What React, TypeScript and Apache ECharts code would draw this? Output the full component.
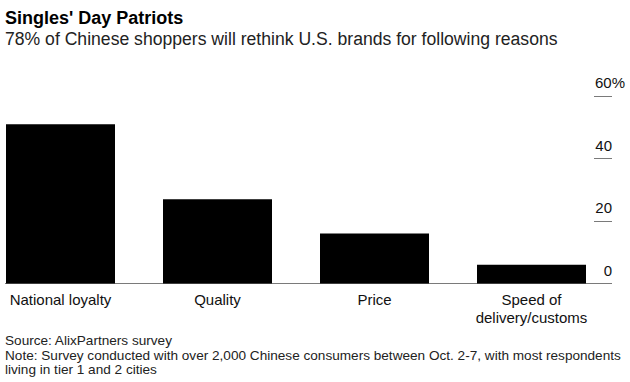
import React, { useEffect, useRef } from "react";
import * as echarts from "echarts";

const categories = ["National loyalty", "Quality", "Price", "Speed of\ndelivery/customs"];
const values = [51, 27, 16, 6];
const yMin = 0;
const yMax = 60;
const yInterval = 20;
const titleText = "Singles' Day Patriots";
const subtitleText = "78% of Chinese shoppers will rethink U.S. brands for following reasons";
const footerLines = [
  "Source: AlixPartners survey",
  "Note: Survey conducted with over 2,000 Chinese consumers between Oct. 2-7, with most respondents",
  "living in tier 1 and 2 cities",
];

const FONT = "'Liberation Sans', Arial, Helvetica, sans-serif";
// chart div is shifted left so the first category band can start off-page
const SHIFT = 18;

export default function App() {
  const ref = useRef<HTMLDivElement>(null);
  useEffect(() => {
    document.body.style.margin = "0";
    const chart = echarts.init(ref.current!, null, { renderer: "svg" });
    const footerYs = [340, 355, 369];
    chart.setOption({
      animation: false,
      textStyle: { fontFamily: FONT },
      grid: { left: 0, right: 20, top: 96, bottom: 98.5, containLabel: false },
      xAxis: {
        type: "category",
        data: categories,
        axisLine: { lineStyle: { color: "#7a7a7a", width: 1 } },
        axisTick: { show: false },
        axisLabel: { color: "#111", fontSize: 15, margin: 7, lineHeight: 18, fontFamily: FONT },
      },
      yAxis: {
        type: "value",
        position: "right",
        offset: 2,
        min: yMin,
        max: yMax,
        interval: yInterval,
        splitLine: { show: false },
        axisLine: { show: false },
        axisTick: { show: true, inside: true, length: 18, lineStyle: { color: "#7a7a7a", width: 1 } },
        axisLabel: {
          align: "right",
          verticalAlign: "bottom",
          margin: 13,
          padding: [0, 0, 6, 0],
          formatter: (v: number) => (v === yMax ? `{n|${v}}{p|%}` : `{m|${v}}`),
          rich: {
            n: { fontSize: 15, color: "#111", fontFamily: FONT },
            p: { fontSize: 15, color: "#111", fontFamily: FONT },
            m: { fontSize: 15, color: "#111", fontFamily: FONT, padding: [0, 13, 0, 0] },
          },
        },
      },
      series: [
        {
          type: "bar",
          data: values,
          barWidth: 109,
          itemStyle: { color: "#000" },
        },
      ],
      graphic: [
        {
          type: "rect",
          z: 100,
          shape: { x: 0, y: 280, width: SHIFT + 5, height: 6 },
          style: { fill: "#fff" },
        },
        {
          type: "text",
          x: SHIFT + 5,
          y: 18,
          style: { text: titleText, fontSize: 18, fontWeight: "bold", fontFamily: FONT, fill: "#000", verticalAlign: "middle" },
        },
        {
          type: "text",
          x: SHIFT + 5,
          y: 39,
          style: { text: subtitleText, fontSize: 17.6, fontFamily: FONT, fill: "#222", verticalAlign: "middle" },
        },
        ...footerLines.map((t, i) => ({
          type: "text",
          x: SHIFT + 5,
          y: footerYs[i],
          style: { text: t, fontSize: 13.6, fontFamily: FONT, fill: "#222", verticalAlign: "middle" },
        })),
      ],
    });
    return () => chart.dispose();
  }, []);
  return (
    <div
      ref={ref}
      style={{ width: 630 + SHIFT, height: 382, position: "absolute", left: -SHIFT, top: 0 }}
    />
  );
}
